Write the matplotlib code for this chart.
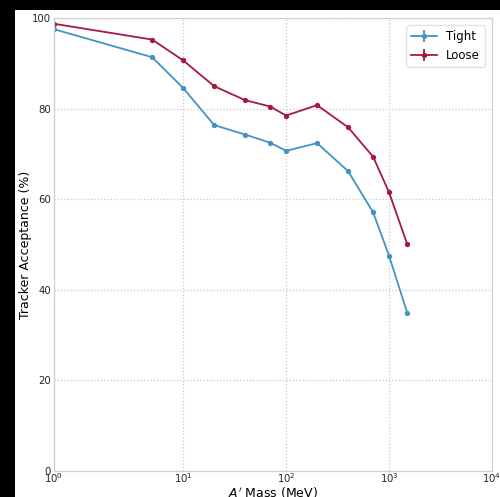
import matplotlib.pyplot as plt
from matplotlib.patches import Rectangle

# A' masses (MeV) and tracker acceptance (%) for the two selections
mass = [1, 5, 10, 20, 40, 70, 100, 200, 400, 700, 1000, 1500]
tight = [97.6, 91.4, 84.6, 76.4, 74.3, 72.5, 70.7, 72.4, 66.2, 57.1, 47.5, 34.9]
loose = [98.8, 95.3, 90.7, 85.0, 81.9, 80.5, 78.5, 80.8, 75.9, 69.4, 61.5, 50.1]
tight_err = [0.2, 0.3, 0.3, 0.3, 0.3, 0.3, 0.3, 0.3, 0.3, 0.3, 0.3, 0.3]
loose_err = [0.2, 0.2, 0.3, 0.3, 0.3, 0.3, 0.3, 0.3, 0.3, 0.3, 0.3, 0.3]

blue = '#4393c3'
red = '#a8193b'

fig = plt.figure(figsize=(5.0, 4.97), dpi=100, facecolor='black')
# white canvas behind the plot
fig.patches.append(Rectangle((0.03, 0.0), 0.97, 0.98, transform=fig.transFigure,
                             facecolor='white', edgecolor='none', zorder=-1))

ax = fig.add_axes([0.108, 0.0533, 0.876, 0.9098])
ax.set_facecolor('white')

ax.errorbar(mass, tight, yerr=tight_err, color=blue, marker='o', ms=2.8,
            lw=1.3, label='Tight')
ax.errorbar(mass, loose, yerr=loose_err, color=red, marker='o', ms=2.8,
            lw=1.3, label='Loose')

ax.set_xscale('symlog', linthresh=2)
ax.set_xlim(1, 1e4)
ax.set_ylim(0, 100)
ax.set_yticks([0, 20, 40, 60, 80, 100])
ax.minorticks_off()

ax.grid(True, which='major', color='#c8c8c8', linestyle=':', linewidth=0.9)
for s in ax.spines.values():
    s.set_color('#d0d0d0')
    s.set_linewidth(0.9)
ax.tick_params(length=0, labelsize=7.3, pad=2, colors='#222222')
ax.tick_params(axis='x', pad=0.5)

ax.set_xlabel("$A'$ Mass (MeV)", fontsize=9)
ax.set_ylabel('Tracker Acceptance (%)', fontsize=9)
ax.xaxis.set_label_coords(0.5, -0.033)
ax.yaxis.set_label_coords(-0.050, 0.5)

leg = ax.legend(loc='upper right', fontsize=8.5, frameon=True, fancybox=True,
                handlelength=2.2, borderaxespad=0.6)
leg.get_frame().set_edgecolor('#dddddd')

fig.savefig('out.png', dpi=100, facecolor=fig.get_facecolor())
